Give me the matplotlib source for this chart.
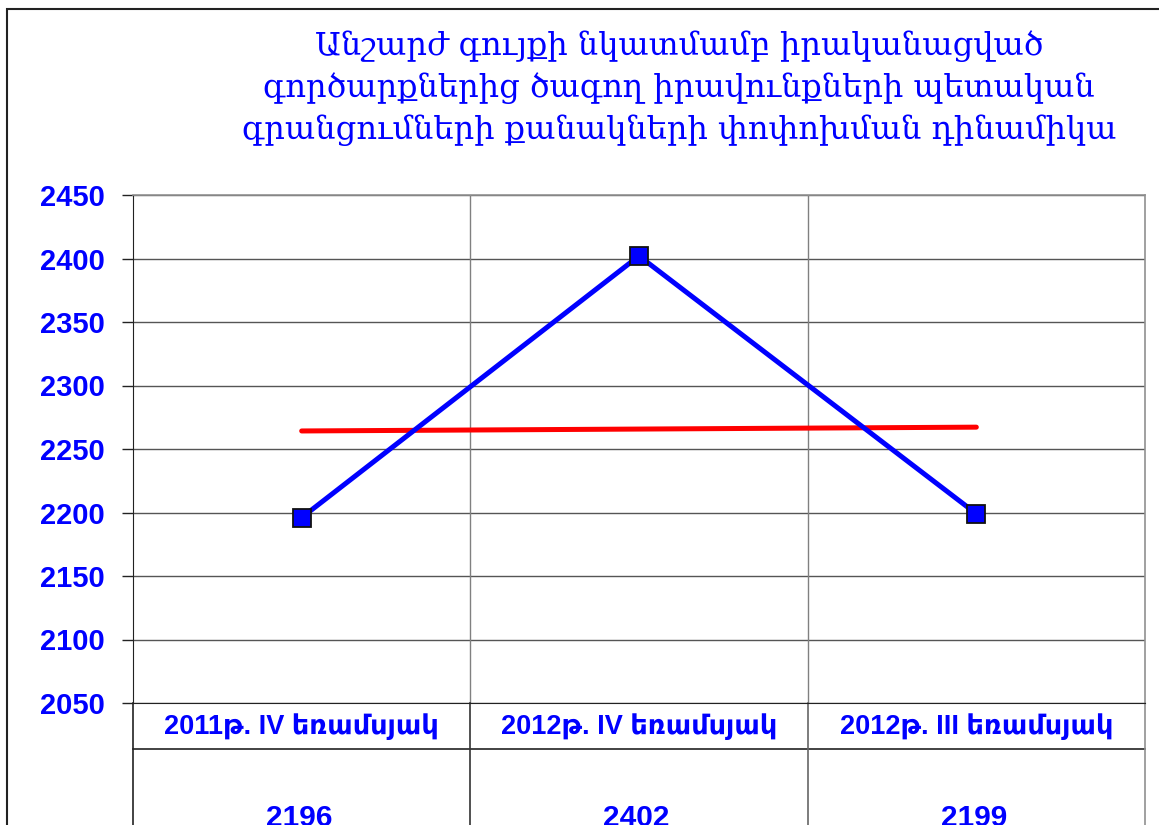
import matplotlib
matplotlib.use("Agg")
import matplotlib.pyplot as plt
from matplotlib.lines import Line2D
from matplotlib.patches import Rectangle

title = ("Անշարժ գույքի նկատմամբ իրականացված\n"
         "գործարքներից ծագող իրավունքների պետական\n"
         "գրանցումների քանակների փոփոխման դինամիկա")
categories = ["2011թ. IV եռամսյակ", "2012թ. IV եռամսյակ", "2012թ. III եռամսյակ"]
values = [2196, 2402, 2199]
trend_values = [2264.2, 2265.7, 2267.2]
yticks = [2050, 2100, 2150, 2200, 2250, 2300, 2350, 2400, 2450]

BLUE = "#0000FF"
W, H = 1159, 825
fig = plt.figure(figsize=(W / 100, H / 100), dpi=100)

# figure border (top and left visible)
fig.add_artist(Rectangle((7 / W, -0.1), 1.2, (1 - 9 / H) + 0.1, transform=fig.transFigure,
                         fill=False, edgecolor="#222222", lw=1.5))

ax = fig.add_axes([133 / W, 1 - 703 / H, (1145 - 133) / W, (703 - 195) / H])
x = [i + 0.5 for i in range(len(categories))]

ax.set_xlim(0, 3)
ax.set_ylim(2050, 2450)
ax.set_yticks(yticks)
ax.set_yticklabels([str(t) for t in yticks], color=BLUE, fontsize=21,
                   fontweight="bold", family=["Liberation Sans", "DejaVu Sans"])
ax.tick_params(axis="y", length=8, width=1, color="#222222", pad=12.5)
ax.set_xticks([])
ax.yaxis.grid(True, color="#555555", lw=1)
for xv in [1, 2]:
    ax.axvline(xv, color="#808080", lw=1, zorder=1)
ax.set_axisbelow(True)
for s in ["top", "right"]:
    ax.spines[s].set_color("#909090")
    ax.spines[s].set_linewidth(1.2)
ax.spines["left"].set_color("#222222")
ax.spines["bottom"].set_color("#222222")

ax.plot(x, trend_values, color="#FF0000", lw=3.6, solid_capstyle="round", zorder=3)
ax.plot(x, values, color=BLUE, lw=3.6, marker="s", markersize=13.5,
        markerfacecolor=BLUE, markeredgecolor="#111111", markeredgewidth=1.3, zorder=4)

# data table below
row1 = (703 - 749) / 508
bottom = (703 - 830) / 508
ax.add_line(Line2D([0, 1], [row1, row1], transform=ax.transAxes, color="#222222",
                   lw=1.2, clip_on=False))
for xf, c in [(0, "#222222"), (1 / 3, "#333333"), (2 / 3, "#666666"), (1, "#909090")]:
    ax.add_line(Line2D([xf, xf], [0, bottom], transform=ax.transAxes, color=c,
                       lw=1.2, clip_on=False))
tr = ax.get_xaxis_transform()
for xi, cat, v in zip(x, categories, values):
    ax.text(xi, (703 - 727) / 508, cat, transform=tr, ha="center", va="center",
            color=BLUE, fontsize=19.5, fontweight="bold",
            family=["Liberation Sans", "DejaVu Sans"], clip_on=False)
    ax.text(xi - 0.007, (703 - 818) / 508, str(v), transform=tr, ha="center", va="center",
            color=BLUE, fontsize=21.5, fontweight="bold",
            family=["Liberation Sans", "DejaVu Sans"], clip_on=False)

fig.text(679 / W, 1 - 88 / H, title, ha="center", va="center", color=BLUE,
         fontsize=23, family=["DejaVu Serif", "DejaVu Sans"], linespacing=1.4)

fig.savefig("out.png", dpi=100)
